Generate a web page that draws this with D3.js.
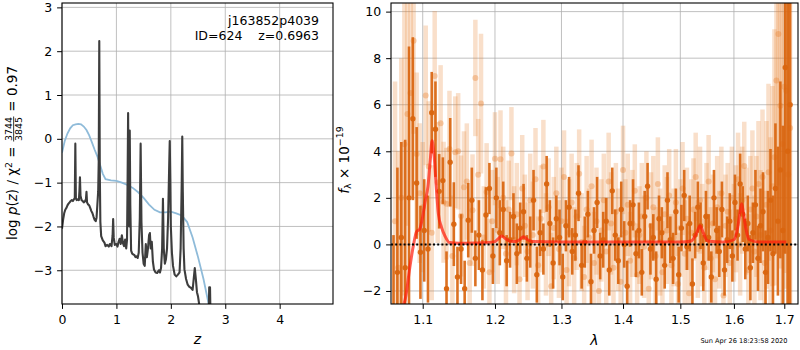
<!DOCTYPE html>
<html>
<head>
<meta charset="utf-8">
<script src="https://cdn.jsdelivr.net/npm/d3@7"></script>
<style>
  body { margin: 0; background: #fff; }
  text { font-family: "DejaVu Sans", sans-serif; white-space: pre; }
</style>
</head>
<body>
<svg id="chart" width="800" height="350"></svg>
<script>
// ---- left panel: redshift probability ----
const pzZ = [0,0.02,0.04,0.06,0.08,0.10,0.12,0.14,0.16,0.18,0.20,0.22,0.235,0.245,0.255,0.27,0.29,0.31,0.32,0.33,
  0.34,0.36,0.38,0.40,0.42,0.44,0.45,0.46,0.48,0.50,0.52,0.54,0.56,0.58,0.60,0.62,0.635,0.65,0.665,0.675,
  0.685,0.695,0.705,0.72,0.75,0.78,0.80,0.83,0.86,0.88,0.91,0.93,0.94,0.95,0.97,1.00,1.02,1.04,1.06,1.08,
  1.10,1.12,1.14,1.16,1.18,1.195,1.205,1.215,1.225,1.235,1.245,1.255,1.27,1.29,1.31,1.33,1.35,1.37,1.39,1.41,
  1.43,1.445,1.46,1.48,1.50,1.52,1.54,1.56,1.58,1.60,1.615,1.63,1.65,1.67,1.69,1.72,1.75,1.78,1.80,1.82,
  1.84,1.855,1.87,1.89,1.91,1.93,1.95,1.97,1.98,1.99,2.00,2.02,2.04,2.07,2.10,2.13,2.16,2.18,2.20,2.21,
  2.22,2.235,2.25,2.28,2.31,2.34,2.37,2.40,2.42,2.44,2.46,2.48,2.50,2.53,2.56,2.69,2.705,2.72,2.735];
const pzLog = [-2.05,-1.85,-1.7,-1.62,-1.58,-1.52,-1.48,-1.45,-1.42,-1.40,-1.42,-1.38,-1.35,-0.11,-1.36,-1.40,-1.38,-1.40,-1.2,-0.88,
  -1.30,-1.40,-1.42,-1.45,-1.43,-1.38,-1.21,-1.45,-1.50,-1.52,-1.58,-1.65,-1.70,-1.78,-1.85,-1.88,-1.80,-1.5,-1.2,-0.5,
  2.23,-0.8,-1.9,-2.22,-2.32,-2.37,-2.45,-2.42,-2.46,-2.40,-2.45,-2.2,-1.83,-2.25,-2.42,-2.40,-2.46,-2.35,-2.28,-2.40,
  -2.2,-2.38,-2.45,-2.30,-2.50,-2.3,-1.0,0.59,-1.5,-2.0,0.19,-1.5,-2.55,-2.62,-2.64,-2.65,-2.7,-2.68,-2.72,-2.6,
  -1.8,-0.11,-1.9,-2.6,-2.85,-2.9,-2.4,-2.7,-2.5,-2.2,-2.15,-2.5,-2.35,-2.8,-2.98,-3.05,-3.06,-3.0,-3.05,-2.95,
  -2.5,-1.37,-2.5,-2.85,-2.75,-2.5,-1.8,-0.6,-0.05,-0.9,-2.0,-2.6,-2.9,-3.1,-3.14,-3.1,-3.05,-2.5,-1.0,0.05,
  -1.2,-2.5,-2.98,-3.2,-3.33,-3.38,-3.4,-3.45,-3.2,-2.95,-3.2,-3.5,-3.6,-3.85,-4.2,-4.5,-3.39,-3.39,-4.5];
const priorZ = [0,0.05,0.1,0.15,0.2,0.25,0.3,0.35,0.4,0.45,0.5,0.55,0.6,0.65,0.7,0.75,0.8,0.9,1.0,1.1,
  1.2,1.3,1.4,1.5,1.6,1.7,1.8,1.9,2.0,2.1,2.2,2.3,2.4,2.5,2.6,2.7];
const priorLog = [-0.32,-0.05,0.12,0.24,0.31,0.33,0.34,0.33,0.28,0.2,0.08,-0.08,-0.25,-0.4,-0.6,-0.8,-0.92,-0.95,-0.96,-1.0,
  -1.05,-1.12,-1.22,-1.35,-1.5,-1.62,-1.68,-1.68,-1.66,-1.7,-1.75,-1.9,-2.25,-2.7,-3.2,-3.8];
const zTicks = [0,1,2,3,4];
const pTicks = [-3,-2,-1,0,1,2,3];

// ---- right panel: 1D spectrum ----
const darkWave = [1.062,1.067,1.072,1.077,1.082,1.087,1.092,1.097,1.102,1.107,
  1.112,1.117,1.122,1.127,1.132,1.137,1.142,1.147,1.152,1.157,
  1.162,1.167,1.172,1.177,1.182,1.187,1.192,1.197,1.202,1.207,
  1.212,1.217,1.222,1.227,1.232,1.237,1.242,1.247,1.252,1.257,
  1.262,1.267,1.272,1.277,1.282,1.287,1.292,1.297,1.302,1.307,
  1.312,1.317,1.322,1.327,1.332,1.337,1.342,1.347,1.352,1.357,
  1.362,1.367,1.372,1.377,1.382,1.387,1.392,1.397,1.402,1.407,
  1.412,1.417,1.422,1.427,1.432,1.437,1.442,1.447,1.452,1.457,
  1.462,1.467,1.472,1.477,1.482,1.487,1.492,1.497,1.502,1.507,
  1.512,1.517,1.522,1.527,1.532,1.537,1.542,1.547,1.552,1.557,
  1.562,1.567,1.572,1.577,1.582,1.587,1.592,1.597,1.602,1.607,
  1.612,1.617,1.622,1.627,1.632,1.637,1.642,1.647,1.652,1.657,
  1.662,1.667,1.672,1.677,1.682,1.687,1.692,1.697,1.702,1.707,
  1.712];
const darkFlux = [-3.5,-1.2,0.3,-1.0,2.0,5.4,2.64,-0.34,0.6,-0.2,
  5.66,4.95,2.28,2.74,-1.9,3.53,0.87,-1.4,-0.2,-1.9,
  1.04,1.9,-0.6,0.4,-1.1,1.26,2.4,-0.5,2.0,0.5,
  1.5,-0.7,0.2,1.2,-0.4,0.7,1.4,-0.6,0.1,1.9,
  -1.3,0.5,-0.2,2.6,0.9,-0.8,1.1,0.3,-1.4,0.8,
  1.6,-0.3,0.4,2.2,-0.9,0.1,1.3,-1.6,0.6,1.8,
  -0.5,0.2,1.0,-1.1,2.3,0.4,-0.7,1.5,0.0,-1.8,
  0.9,1.7,-0.4,0.6,-1.2,1.2,2.5,-0.2,0.3,-1.5,
  1.1,0.5,-0.9,1.9,0.2,-0.6,1.4,-1.3,0.7,2.1,
  -0.1,0.9,-1.7,0.4,1.6,0.8,-0.8,1.2,0.3,-1.4,
  2.0,0.6,-0.3,1.5,-1.1,0.2,1.0,-0.5,1.8,0.4,
  2.6,1.3,-0.2,0.9,-1.0,0.5,1.7,-0.6,0.8,1.4,
  -1.2,0.3,1.9,-0.4,2.4,1.0,3.2,0.6,7.6,4.0,
  6.0];
const darkErr = [3.9,4.5,4.1,5.5,6.5,3.5,2.4,2.0,2.2,2.3,
  1.75,2.05,1.6,1.0,1.6,1.9,1.8,1.3,1.5,1.2,
  1.6,1.4,1.2,1.5,1.3,1.2,1.1,1.2,1.3,1.4,
  1.2,1.1,1.2,1.0,1.3,1.1,1.2,1.0,1.1,1.3,
  1.2,1.0,1.1,1.2,1.0,1.1,1.0,1.2,1.0,1.1,
  1.3,1.0,1.1,1.2,1.0,1.1,1.0,1.2,1.0,1.1,
  1.0,1.2,1.0,1.1,1.0,1.1,1.0,1.2,1.0,1.1,
  1.0,1.1,1.0,1.2,1.0,1.1,1.0,1.1,1.0,1.2,
  1.0,1.1,1.0,1.2,1.0,1.1,1.0,1.2,1.0,1.1,
  1.0,1.2,1.1,1.0,1.1,1.0,1.2,1.1,1.0,1.1,
  1.2,1.0,1.1,1.2,1.1,1.0,1.2,1.1,1.2,1.1,
  1.3,1.2,1.3,1.2,1.4,1.3,1.5,1.4,1.6,1.7,
  1.8,2.0,2.2,2.5,2.8,3.2,3.8,4.5,8.0,9.0,
  10.0];

const lightWave = [1.064,1.068,1.072,1.076,1.080,1.084,1.088,1.092,1.096,1.100,
  1.104,1.108,1.112,1.116,1.120,1.124,1.128,1.132,1.136,1.140,
  1.144,1.148,1.152,1.156,1.160,1.164,1.168,1.172,1.176,1.180,
  1.184,1.188,1.192,1.196,1.200,1.204,1.208,1.212,1.216,1.220,
  1.224,1.228,1.232,1.236,1.240,1.244,1.248,1.252,1.256,1.260,
  1.264,1.268,1.272,1.276,1.280,1.284,1.288,1.292,1.296,1.300,
  1.304,1.308,1.312,1.316,1.320,1.324,1.328,1.332,1.336,1.340,
  1.344,1.348,1.352,1.356,1.360,1.364,1.368,1.372,1.376,1.380,
  1.384,1.388,1.392,1.396,1.400,1.404,1.408,1.412,1.416,1.420,
  1.424,1.428,1.432,1.436,1.440,1.444,1.448,1.452,1.456,1.460,
  1.464,1.468,1.472,1.476,1.480,1.484,1.488,1.492,1.496,1.500,
  1.504,1.508,1.512,1.516,1.520,1.524,1.528,1.532,1.536,1.540,
  1.544,1.548,1.552,1.556,1.560,1.564,1.568,1.572,1.576,1.580,
  1.584,1.588,1.592,1.596,1.600,1.604,1.608,1.612,1.616,1.620,
  1.624,1.628,1.632,1.636,1.640,1.644,1.648,1.652,1.656,1.660,
  1.664,1.668,1.672,1.676,1.680,1.684,1.688,1.692,1.696,1.700,
  1.704,1.708,1.712];
const lightFlux = [1.0,-1.0,2.0,4.3,5.6,6.5,8.75,3.88,2.2,1.6,
  6.4,3.35,0.5,7.23,2.66,5.2,1.81,1.75,4.1,-0.5,
  3.96,4.0,1.22,2.46,2.7,-0.8,1.47,7.15,2.99,6.05,
  0.3,2.25,-1.2,1.0,3.68,0.6,3.66,2.0,-0.4,1.5,
  3.9,0.2,1.3,-1.5,2.4,0.8,-0.3,1.9,0.4,2.8,
  -0.9,1.1,3.35,0.0,1.6,-1.8,0.7,2.2,-0.2,1.0,
  2.9,-1.1,0.5,1.8,-0.6,1.2,3.04,0.1,-1.4,1.5,
  0.3,2.5,-0.8,1.0,-2.0,0.6,1.9,-0.3,2.7,0.9,
  -1.0,1.4,0.2,-1.6,3.2,0.5,1.7,-0.7,0.9,2.3,
  -1.3,0.4,1.2,-0.1,2.0,-1.9,0.8,1.6,-0.5,2.6,
  0.1,-1.2,1.3,0.6,2.1,-0.9,0.3,1.8,-1.7,0.7,
  2.4,-0.4,1.1,-2.1,0.5,1.5,2.9,-0.2,1.9,0.4,
  -1.0,1.2,2.7,-0.6,0.9,-1.5,1.6,0.2,2.2,-2.2,
  0.8,1.4,-0.8,2.0,0.5,1.1,2.8,0.0,1.9,3.37,
  1.0,-1.1,1.5,2.4,-0.3,1.2,2.6,0.4,2.9,-0.8,
  1.7,3.1,0.6,2.5,3.74,7.04,9.04,5.96,4.31,6.77,
  6.6,3.0,5.0];
const lightErr = [6.0,5.0,6.0,6.5,4.8,4.5,4.0,3.5,3.0,2.8,
  3.0,2.8,2.9,2.8,2.6,2.5,2.6,2.4,2.5,2.6,
  2.4,2.5,2.6,2.4,2.5,2.6,2.4,2.5,2.4,3.0,
  2.2,2.1,2.3,2.2,2.0,2.3,2.1,2.2,2.3,2.1,
  2.0,2.3,2.2,2.1,2.3,2.2,2.1,2.0,2.3,2.2,
  2.1,2.3,2.0,2.2,2.1,2.3,2.2,2.0,2.1,2.3,
  2.0,2.2,2.3,2.1,2.2,2.3,1.9,2.1,2.2,2.3,
  2.1,2.0,2.2,2.3,2.1,2.2,2.0,2.3,2.1,2.2,
  2.3,2.1,2.2,2.0,1.9,2.3,2.2,2.1,2.3,2.0,
  2.2,2.1,2.3,2.2,2.0,2.1,2.3,2.2,2.1,2.0,
  2.3,2.2,2.1,2.3,2.0,2.2,2.1,2.3,2.2,2.1,
  2.0,2.3,2.2,2.1,2.3,2.2,1.9,2.1,2.3,2.2,
  2.1,2.3,2.0,2.2,2.1,2.3,2.2,2.1,2.0,2.3,
  2.2,2.1,2.3,2.2,2.1,2.3,2.0,2.2,2.3,1.9,
  2.3,2.4,2.3,2.5,2.4,2.6,2.7,2.8,2.9,3.1,
  3.6,3.8,4.0,4.3,5.5,6.0,6.5,7.0,7.5,8.0,
  8.5,9.0,10.0];

const modelWave = [1.070,1.078,1.083,1.088,1.092,1.096,1.100,1.103,1.107,1.110,1.1125,1.115,1.118,1.121,1.125,1.130,1.136,
  1.15,1.17,1.19,1.200,1.205,1.210,1.215,1.222,1.230,1.236,1.242,1.248,1.255,1.30,1.40,1.50,1.52,1.530,1.536,1.542,
  1.55,1.58,1.60,1.607,1.612,1.615,1.618,1.623,1.63,1.65,1.704];
const modelFlux = [-3.0,-2.2,-1.0,0.0,0.55,0.65,1.2,1.8,2.5,3.6,4.45,3.9,2.5,1.3,0.75,0.35,0.08,
  0.05,0.06,0.08,0.12,0.25,0.36,0.25,0.14,0.13,0.2,0.33,0.2,0.12,0.1,0.1,0.1,0.15,0.5,0.8,0.5,
  0.15,0.1,0.2,0.7,1.4,1.75,1.4,0.7,0.2,0.1,0.1];
const lamTicks = [1.1,1.2,1.3,1.4,1.5,1.6,1.7];
const fTicks = [-2,0,2,4,6,8,10];

const svg = d3.select("#chart");
const FS = 12.5;
const gridColor = "#b0b0b0";

// panel geometry
const L = {x0: 62, x1: 333, y0: 3, y1: 304};
const R = {x0: 391, x1: 798, y0: 3, y1: 304};

const xZ = d3.scaleLinear().domain([0, 4.98]).range([L.x0, L.x1]);
const yP = d3.scaleLinear().domain([-3.77, 3.1]).range([L.y1, L.y0]);
const xL = d3.scaleLog().domain([1.0588, 1.7283]).range([R.x0, R.x1]);
const yF = d3.scaleLinear().domain([-2.56, 10.37]).range([R.y1, R.y0]);

const defs = svg.append("defs");
defs.append("clipPath").attr("id", "clipL").append("rect")
  .attr("x", L.x0).attr("y", L.y0).attr("width", L.x1 - L.x0).attr("height", L.y1 - L.y0);
defs.append("clipPath").attr("id", "clipR").append("rect")
  .attr("x", R.x0).attr("y", R.y0).attr("width", R.x1 - R.x0).attr("height", R.y1 - R.y0);

function grid(P, xs, ys, xv, yv) {
  const g = svg.append("g").attr("stroke", gridColor).attr("stroke-width", 0.8);
  g.selectAll(null).data(xv).join("line")
    .attr("x1", d => xs(d)).attr("x2", d => xs(d)).attr("y1", P.y0).attr("y2", P.y1);
  g.selectAll(null).data(yv).join("line")
    .attr("y1", d => ys(d)).attr("y2", d => ys(d)).attr("x1", P.x0).attr("x2", P.x1);
}

function axes(P, xs, ys, xv, yv, xfmt, yfmt) {
  const ax = svg.append("g").attr("transform", `translate(0,${P.y1})`)
    .call(d3.axisBottom(xs).tickValues(xv).tickFormat(xfmt).tickSize(4.9).tickPadding(6));
  const ay = svg.append("g").attr("transform", `translate(${P.x0},0)`)
    .call(d3.axisLeft(ys).tickValues(yv).tickFormat(yfmt).tickSize(4.9).tickPadding(5));
  [ax, ay].forEach(a => {
    a.select(".domain").remove();
    a.selectAll("line").attr("stroke", "#000").attr("stroke-width", 1);
    a.selectAll("text").attr("font-size", FS).attr("font-family", "DejaVu Sans").attr("fill", "#000");
  });
  svg.append("rect").attr("x", P.x0).attr("y", P.y0)
    .attr("width", P.x1 - P.x0).attr("height", P.y1 - P.y0)
    .attr("fill", "none").attr("stroke", "#000").attr("stroke-width", 1.1);
}

// ---------- left panel ----------
grid(L, xZ, yP, zTicks, pTicks);
const gl = svg.append("g").attr("clip-path", "url(#clipL)");
gl.append("path")
  .attr("d", d3.line().x((d, i) => xZ(priorZ[i])).y(d => yP(d))(priorLog))
  .attr("fill", "none").attr("stroke", "#8fbbd9").attr("stroke-width", 1.8);
gl.append("path")
  .attr("d", d3.line().x((d, i) => xZ(pzZ[i])).y(d => yP(d))(pzLog))
  .attr("fill", "none").attr("stroke", "#3d3d3d").attr("stroke-width", 2.1).attr("stroke-linejoin", "round");
axes(L, xZ, yP, zTicks, pTicks, d3.format("d"), d3.format("d"));

svg.append("text").attr("x", 319).attr("y", 25).attr("text-anchor", "end")
  .attr("font-size", FS).text("j163852p4039");
svg.append("text").attr("x", 319).attr("y", 40).attr("text-anchor", "end")
  .attr("font-size", FS).text("ID=624    z=0.6963");

// ---------- right panel ----------
grid(R, xL, yF, lamTicks, fTicks);
const gr = svg.append("g").attr("clip-path", "url(#clipR)");

function errorbars(g, w, f, e, color, bw, r, opBar, opDot) {
  const idx = d3.range(w.length);
  g.append("g").selectAll("line").data(idx).join("line")
    .attr("x1", i => xL(w[i])).attr("x2", i => xL(w[i]))
    .attr("y1", i => yF(f[i] - e[i])).attr("y2", i => yF(f[i] + e[i]))
    .attr("stroke", color).attr("stroke-width", bw).attr("stroke-opacity", opBar);
  g.append("g").selectAll("circle").data(idx).join("circle")
    .attr("cx", i => xL(w[i])).attr("cy", i => yF(f[i])).attr("r", r)
    .attr("fill", color).attr("fill-opacity", opDot);
}
errorbars(gr, lightWave, lightFlux, lightErr, "#e87e2a", 4.5, 3, 0.25, 0.35);
errorbars(gr, darkWave, darkFlux, darkErr, "#d9650f", 2.6, 2.7, 0.92, 0.95);

gr.append("path")
  .attr("d", d3.line().x((d, i) => xL(modelWave[i])).y(d => yF(d)).curve(d3.curveMonotoneX)(modelFlux))
  .attr("fill", "none").attr("stroke", "#ff1a0a").attr("stroke-opacity", 0.7).attr("stroke-width", 3);

gr.append("line").attr("x1", R.x0).attr("x2", R.x1).attr("y1", yF(0)).attr("y2", yF(0))
  .attr("stroke", "#000").attr("stroke-width", 2).attr("stroke-dasharray", "2,2.2");

axes(R, xL, yF, lamTicks, fTicks, d3.format(".1f"), d3.format("d"));

// ---------- axis labels ----------
function mathLabel(cy, baseX, fs, parts) {
  const g = svg.append("g");
  let x = 0;
  parts.forEach(p => {
    if (p.frac) {
      const f2 = fs * 0.7, ay = -fs * 0.27;
      const n = g.append("text").attr("font-size", f2).attr("y", ay - 1.8).text(p.frac[0]);
      const d = g.append("text").attr("font-size", f2).attr("y", ay + 1.8 + f2 * 0.73).text(p.frac[1]);
      const w = Math.max(n.node().getComputedTextLength(), d.node().getComputedTextLength());
      n.attr("x", x + 1 + w / 2).attr("text-anchor", "middle");
      d.attr("x", x + 1 + w / 2).attr("text-anchor", "middle");
      g.append("line").attr("x1", x + 0.5).attr("x2", x + w + 1.5).attr("y1", ay).attr("y2", ay)
        .attr("stroke", "#000").attr("stroke-width", 0.8);
      x += w + 2;
    } else {
      const t = g.append("text").attr("x", x).attr("y", p.dy ? p.dy * fs : 0)
        .attr("font-size", p.s ? fs * p.s : fs)
        .attr("font-style", p.it ? "italic" : null).text(p.t);
      x += t.node().getComputedTextLength();
    }
  });
  g.attr("transform", `translate(${baseX},${cy + x / 2}) rotate(-90)`);
}

mathLabel(153, 17.3, 13.5, [
  {t: "log "}, {t: "p", it: true}, {t: "("}, {t: "z", it: true}, {t: ") / χ"},
  {t: "2", s: 0.7, dy: -0.42}, {t: " = "}, {frac: ["3744", "3845"]}, {t: " = 0.97"}
]);
mathLabel(160, 348.5, 13.5, [
  {t: "f", it: true}, {t: "λ", s: 0.7, dy: 0.22}, {t: " × 10"}, {t: "−19", s: 0.7, dy: -0.42}
]);

svg.append("text").attr("x", (L.x0 + L.x1) / 2).attr("y", 344).attr("text-anchor", "middle")
  .attr("font-size", 14).attr("font-style", "italic").text("z");
svg.append("text").attr("x", (R.x0 + R.x1) / 2).attr("y", 345).attr("text-anchor", "middle")
  .attr("font-size", 14).attr("font-style", "italic").text("λ");

svg.append("text").attr("x", 787.5).attr("y", 342.5).attr("text-anchor", "end")
  .attr("font-size", 6.6).text("Sun Apr 26 18:23:58 2020");
</script>
</body>
</html>
